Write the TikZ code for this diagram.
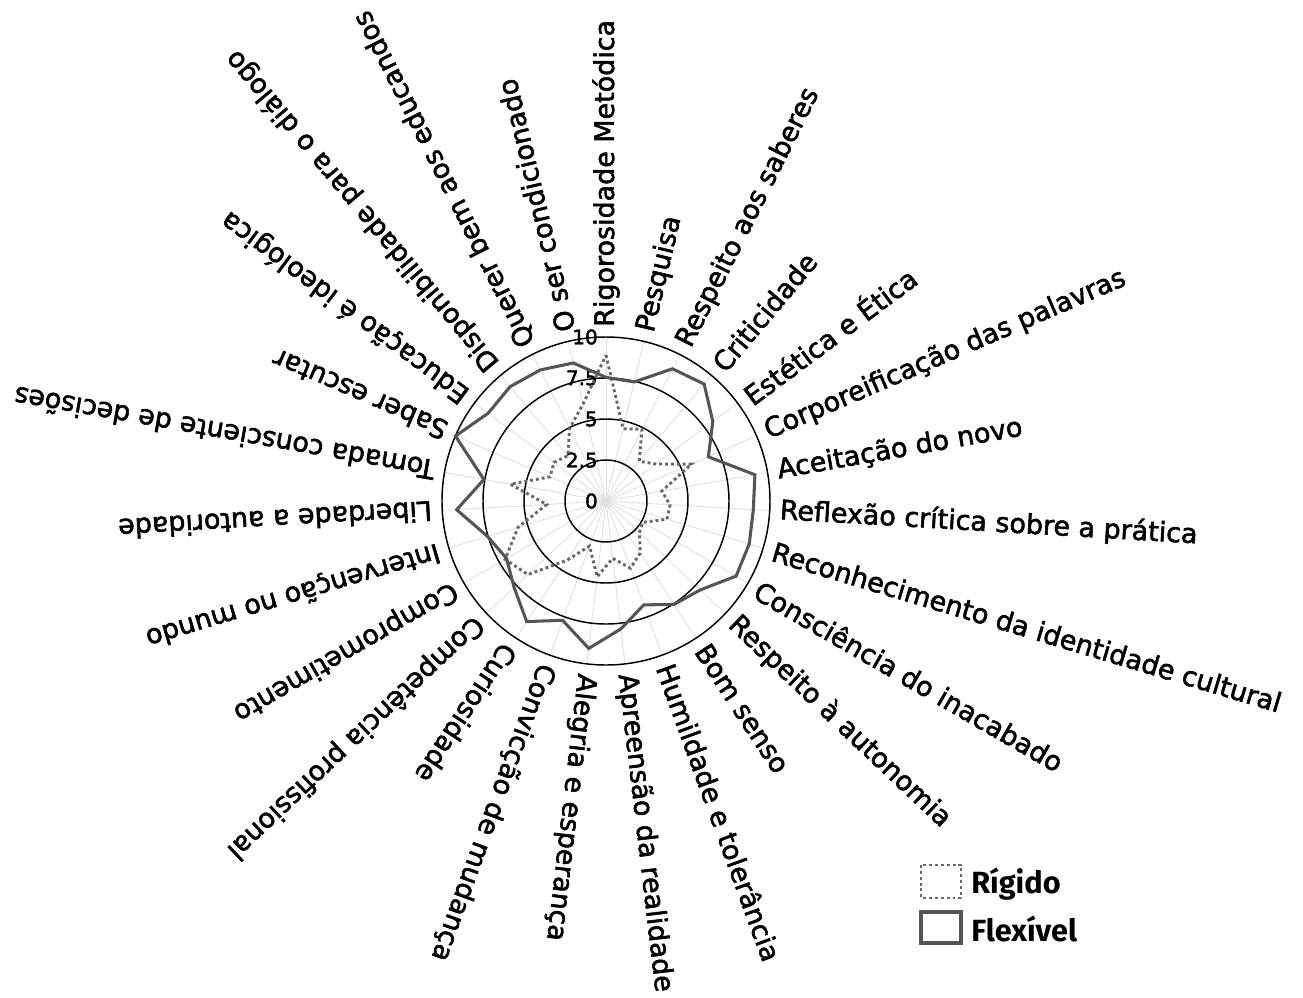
\documentclass[tikz,border=0pt]{standalone}
\usepackage{fontspec}
\setmainfont{DejaVu Sans}[FakeBold=2]
\newfontfamily\legendfont{Fira Sans}
\usetikzlibrary{positioning}
\definecolor{flexgray}{RGB}{85,85,85}
\definecolor{riggray}{RGB}{105,105,105}
\tikzset{
  ring/.style={black, line width=1.1pt},
  spoke/.style={black!12, line width=0.7pt},
  flexline/.style={flexgray, line width=2.3pt, line join=miter},
  rigline/.style={riggray, line width=2.2pt, dash pattern=on 2.2pt off 2.2pt},
  axislabel/.style={anchor=west, inner sep=0pt, font=\fontsize{20.2}{24}\selectfont},
  ticklabel/.style={anchor=east, inner sep=0pt, font=\fontsize{15}{17}\selectfont},
  legtext/.style={anchor=west, inner sep=0pt, font=\legendfont\bfseries\fontsize{23}{26}\selectfont}
}
\begin{document}
\begin{tikzpicture}[x=0.75pt,y=0.75pt]
\useasboundingbox (-606,-496) rectangle (697,501);
% grid
\foreach \k in {0,...,26}
  \draw[spoke] (0,0) -- (90-\k*360/27:164);
\foreach \f in {0.25,0.5,0.75,1}
  \draw[ring] (0,0) circle (\f*164);
\foreach \t [count=\i from 0] in {0,2.5,5,7.5,10}
  \node[ticklabel] (tick\i) at (-8,\i*41) {\t};
% series
\draw[rigline] (90:8.9*16.4) foreach \v [count=\k] in
  {4.53,4.89,3.16,3.78,5.67,3.46,3.91,3.88,2.6,2.8,3.8,4.36,3.52,4.65,2.92,4.32,6.54,7.1,5.6,3.62,5.92,3.72,3.95,3.61,4.95,6.07}
  { -- (90-\k*360/27:\v*16.4) } -- cycle;
\draw[flexline] (90:7.54*16.4) foreach \v [count=\k] in
  {7.46,9.02,9.31,8.12,6.8,9.22,9.0,9.12,9.16,7.9,7.55,6.74,7.85,9.05,7.74,8.8,7.7,7.0,7.54,9.12,7.56,10.0,8.96,9.1,8.94,8.65}
  { -- (90-\k*360/27:\v*16.4) } -- cycle;
% axis labels
\foreach \txt [count=\k from 0] in {Rigorosidade Metódica,Pesquisa,Respeito aos saberes,Criticidade,Estética e Ética,
  Corporeificação das palavras,Aceitação do novo,Reflexão crítica sobre a prática,Reconhecimento da identidade cultural,
  Consciência do inacabado,Respeito à autonomia,Bom senso,Humildade e tolerância,Apreensão da realidade,
  Alegria e esperança,Convicção de mudança,Curiosidade,Competência profissional,Comprometimento,
  Intervenção no mundo,Liberdade a autoridade,Tomada consciente de decisões,Saber escutar,
  Educação é ideológica,Disponibilidade para o diálogo,Querer bem aos educandos,O ser condicionado}
{
  \pgfmathsetmacro\ang{90-\k*360/27}
  \node[axislabel, rotate=\ang] (lab\k) at (\ang:174) {\txt};
}
% legend
\draw[riggray, line width=2.2pt, dash pattern=on 2.2pt off 2.2pt] (315,-364) rectangle (355,-397);
\draw[flexgray, line width=2.3pt] (315,-411) rectangle (355,-442);
\node[legtext] (rig) at (365,-383) {Rígido};
\node[legtext] (flex) at (365,-428) {Flexível};
\end{tikzpicture}
\end{document}
